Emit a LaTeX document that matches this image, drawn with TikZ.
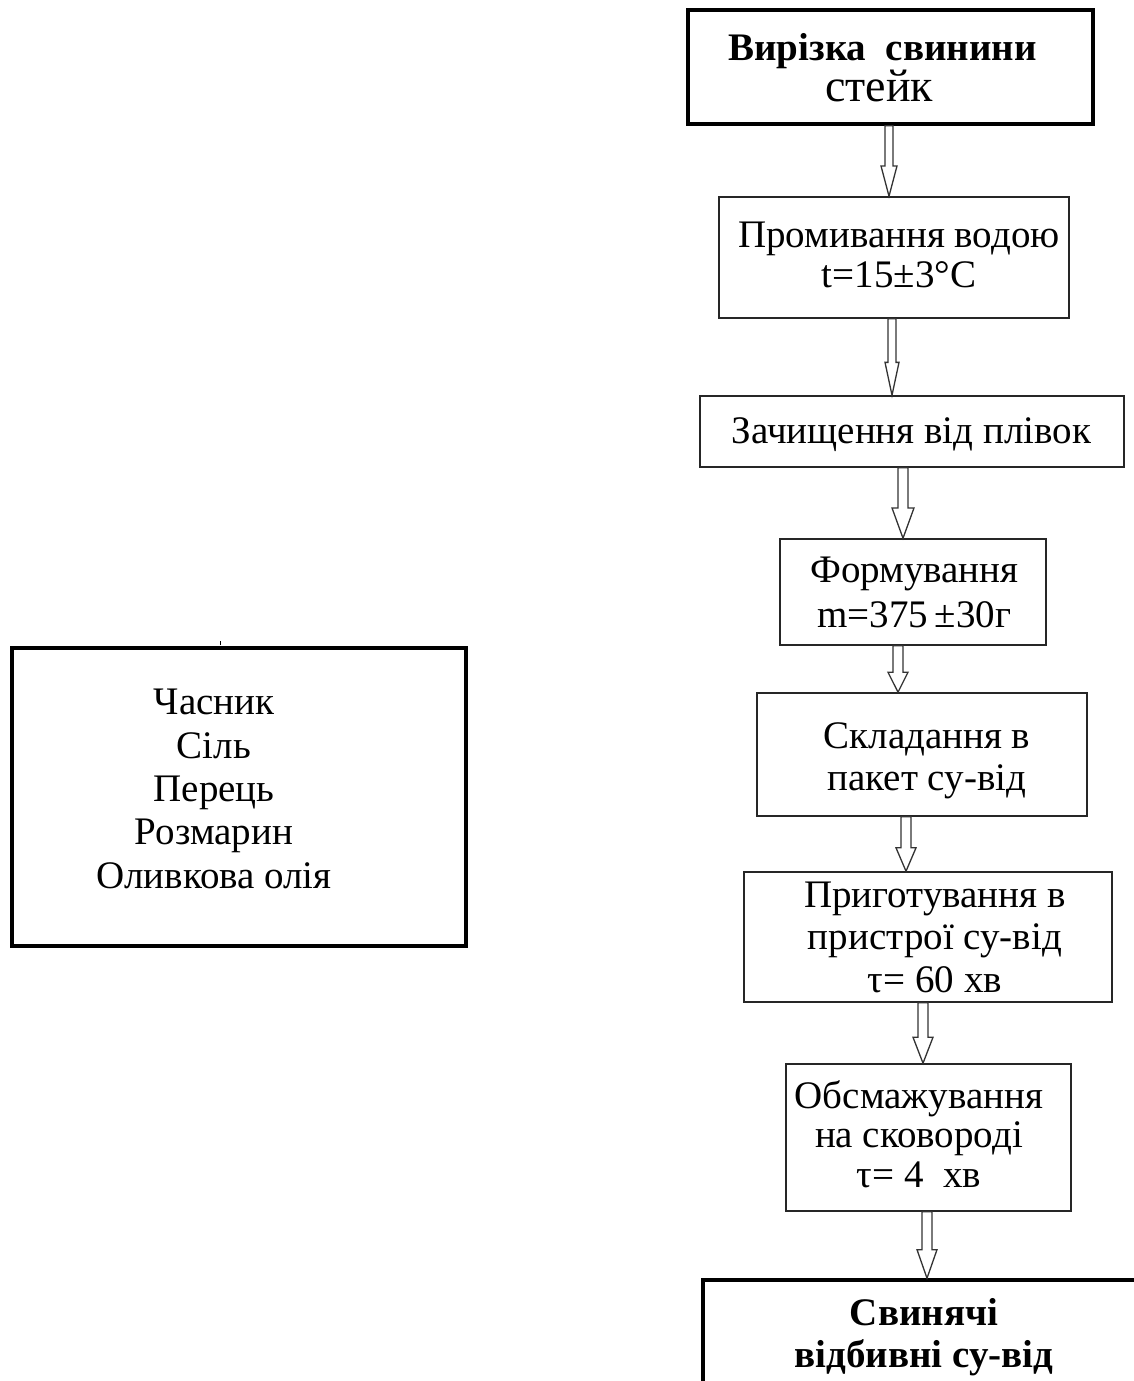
\documentclass[tikz,border=0pt]{standalone}
\usepackage{fontspec}
\setmainfont{Liberation Serif}
\usetikzlibrary{calc}
\tikzset{
  box/.style={draw=black!85, line width=1.6pt, rectangle, inner sep=0pt},
  thickbox/.style={draw=black, line width=3.6pt, rectangle, inner sep=0pt},
  txt/.style={inner sep=0pt, align=center, anchor=base, font=\fontsize{39}{43}\selectfont},
  blk/.style={draw=black!80, line width=1.3pt, fill=white, line join=miter},
}
\newcommand\varrow[5]{%
  \draw[blk] let \p1=(#1.south), \p2=(#2.north), \n1={\y1+0.57*(\y2-\y1)} in
    (#3pt-#4pt,\y1) -- (#3pt-#4pt,\n1*1pt) -- (#3pt-#5pt,\n1*1pt) -- (#3pt,\y2)
    -- (#3pt+#5pt,\n1*1pt) -- (#3pt+#4pt,\n1*1pt) -- (#3pt+#4pt,\y1) -- cycle;
}
\begin{document}
\begin{tikzpicture}[x=1pt,y=-1pt]
\useasboundingbox (0,0) rectangle (1134,1381);
\clip (0,0) rectangle (1134,1381);
\fill[white] (0,0) rectangle (1134,1381);

\node[thickbox, minimum width=405, minimum height=114] (b1) at (890.5,67) {};
\node[txt, font=\bfseries\fontsize{39}{43}\selectfont] (b1a) at (882.5,60) {Вирізка\ \ свинини};
\node[txt, font=\fontsize{46}{50}\selectfont] (b1b) at (879,101) {стейк};

\node[box, minimum width=350, minimum height=121] (b2) at (894,257.5) {};
\node[txt, font=\fontsize{39}{40}\selectfont] (b2t) at (899,287) {Промивання водою\\t=15±3°C};

\node[box, minimum width=424, minimum height=71] (b3) at (912,431.5) {};
\node[txt] (b3t) at (911.5,443) {Зачищення від плівок};

\node[box, minimum width=266, minimum height=106] (b4) at (913,592) {};
\node[txt, font=\fontsize{39}{45}\selectfont] (b4t) at (914.5,627) {Формування\\m=375\,±30г};

\node[box, minimum width=330, minimum height=123] (b5) at (922,754.5) {};
\node[txt, font=\fontsize{39}{42}\selectfont] (b5t) at (927,790) {Складання в\\пакет су-від};

\node[box, minimum width=368, minimum height=130] (b6) at (928,937) {};
\node[txt, font=\fontsize{39}{42.5}\selectfont] (b6t) at (935,992) {Приготування в\\пристрої су-від\\τ= 60 хв};

\node[box, minimum width=285, minimum height=147] (b7) at (928.5,1137.5) {};
\node[txt, font=\fontsize{39}{39.5}\selectfont] (b7t) at (919,1187) {Обсмажування\\на сковороді\\τ= 4\ \ хв};

\node[thickbox, minimum width=460, minimum height=160] (b8) at (933,1360) {};
\node[txt, font=\bfseries\fontsize{39}{42}\selectfont] (b8t) at (924,1367) {Свинячі\\відбивні су-від};

\node[thickbox, minimum width=454, minimum height=298] (ing) at (239,797) {};
\node[txt, font=\fontsize{39}{43.3}\selectfont] (ingt) at (214,888) {Часник\\Сіль\\Перець\\Розмарин\\Оливкова олія};
\draw[line width=1pt] ($(ing.north)+(-19,-1)$) -- ++(0,-4);

\varrow{b1}{b2}{889}{4}{8}
\varrow{b2}{b3}{892}{4}{7}
\varrow{b3}{b4}{903}{5}{11}
\varrow{b4}{b5}{898}{5}{10}
\varrow{b5}{b6}{906}{5}{10}
\varrow{b6}{b7}{923}{5}{10}
\varrow{b7}{b8}{927}{5}{10}

\draw[blk] let \p1=(ing.east), \p2=(b5.west) in
  (\x1,757pt) -- (612pt,757pt) -- (612pt,752pt) -- (\x2,763pt) -- (612pt,773pt)
  -- (612pt,768pt) -- (\x1,768pt) -- cycle;
\end{tikzpicture}
\end{document}
